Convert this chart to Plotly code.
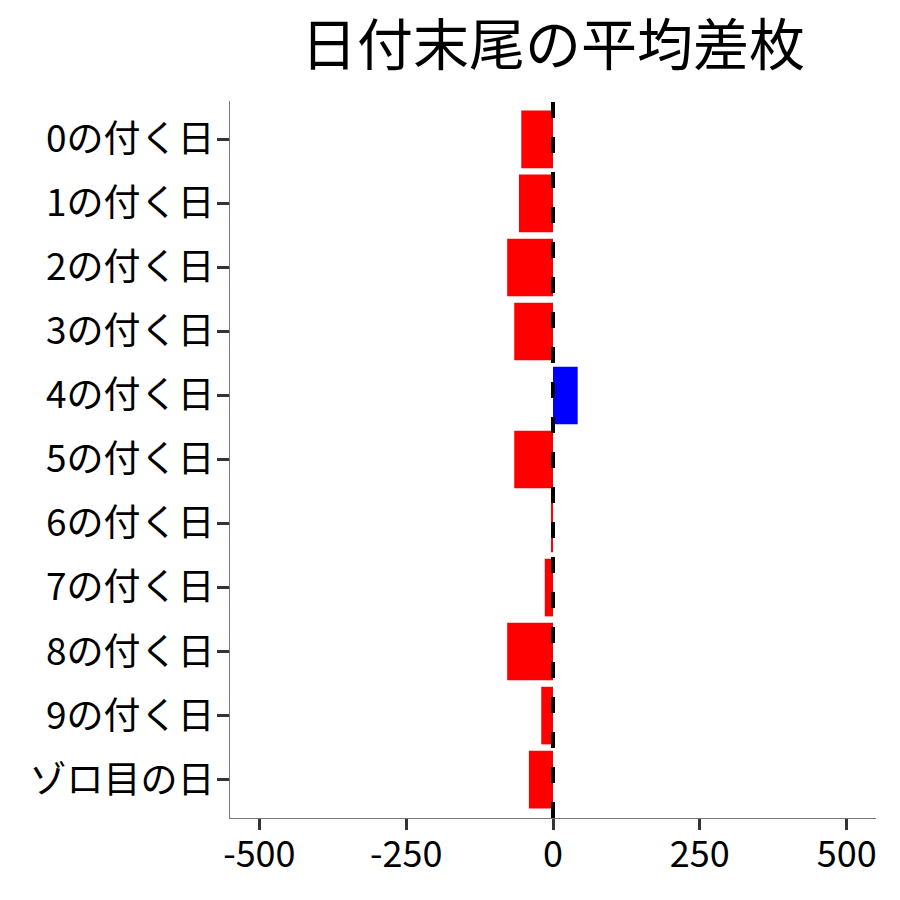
import plotly.graph_objects as go

categories = ["0の付く日", "1の付く日", "2の付く日", "3の付く日", "4の付く日",
              "5の付く日", "6の付く日", "7の付く日", "8の付く日", "9の付く日", "ゾロ目の日"]
values = [-54, -58, -78, -66, 42, -66, -3, -14, -78, -20, -41]
tick_vals = [-500, -250, 0, 250, 500]
tick_text = ["-500", "-250", "0", "250", "500"]
title_text = "日付末尾の平均差枚"

colors = ["#0000FF" if v > 0 else "#FF0000" for v in values]
FONT = "Noto Sans CJK JP"

fig = go.Figure(go.Bar(
    x=values, y=categories, orientation="h",
    marker=dict(color=colors, line=dict(width=0)),
    width=0.9,
))

fig.add_shape(type="line", xref="x", yref="paper", x0=0, x1=0, y0=0, y1=1,
              line=dict(color="black", width=4, dash="16px,19px"), layer="above")

fig.update_layout(
    width=900, height=900,
    margin=dict(l=222, r=32, t=93, b=90),
    paper_bgcolor="white", plot_bgcolor="white",
    font=dict(family=FONT, color="black", size=36),
    title=dict(text=title_text, x=0.5, xref="paper", xanchor="center",
               y=1 - 37 / 900, yanchor="middle",
               font=dict(family=FONT, size=56, color="black")),
    showlegend=False,
    bargap=0.1,
)
fig.update_xaxes(
    range=[-550, 550], tickvals=tick_vals, ticktext=tick_text,
    showgrid=False, zeroline=False, showline=True, linecolor="#777777", linewidth=1,
    ticks="outside", ticklen=11, tickwidth=3, tickcolor="#333333",
    ticklabelstandoff=-6,
    tickfont=dict(family=FONT, size=36, color="black"),
)
fig.update_yaxes(
    categoryorder="array", categoryarray=categories,
    range=[10.6, -0.6],
    showgrid=False, zeroline=False, showline=True, linecolor="#777777", linewidth=1,
    ticks="outside", ticklen=12, tickwidth=3, tickcolor="#333333",
    ticklabelstandoff=-5,
    tickfont=dict(family=FONT, size=37, color="black"),
)

fig.write_html("out.html")
